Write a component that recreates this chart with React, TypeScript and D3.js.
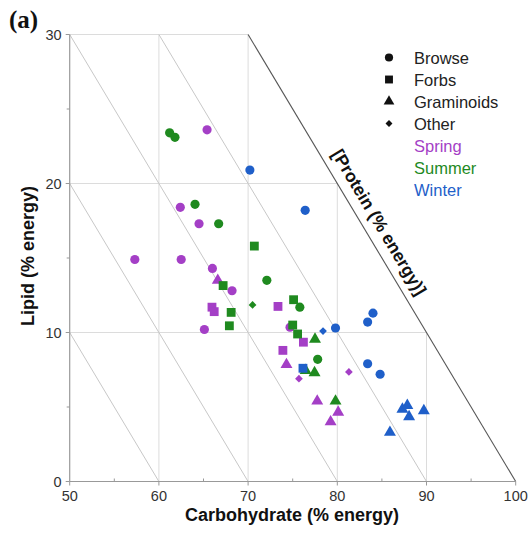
import React from "react";
import * as d3 from "d3";

const xTicks = [50, 60, 70, 80, 90, 100];
const yTicks = [0, 10, 20, 30];
const xMinor = [55, 65, 75, 85, 95];
const yMinor = [5, 15, 25];
const isoLines = [60, 70, 80, 90];

// [carbohydrate, lipid]
const springBrowse = [[65.4, 23.6], [62.4, 18.4], [64.5, 17.3], [57.3, 14.9], [62.5, 14.9], [66.0, 14.3], [68.2, 12.8], [65.1, 10.2], [74.7, 10.35]];
const springForbs = [[65.95, 11.7], [66.2, 11.4], [73.35, 11.75], [76.2, 9.35], [73.9, 8.8]];
const springGraminoids = [[66.6, 13.5], [74.3, 7.85], [77.75, 5.4], [80.1, 4.65], [79.25, 4.0]];
const springOther = [[75.7, 6.9], [81.3, 7.35]];

const summerBrowse = [[61.2, 23.4], [61.8, 23.1], [64.05, 18.6], [66.7, 17.3], [72.1, 13.5], [75.8, 11.7], [77.8, 8.2]];
const summerForbs = [[70.7, 15.8], [67.2, 13.15], [68.1, 11.35], [67.9, 10.45], [75.1, 12.2], [75.0, 10.5], [75.55, 9.9]];
const summerGraminoids = [[77.5, 9.55], [76.45, 7.45], [77.45, 7.3], [79.8, 5.4]];
const summerOther = [[70.5, 11.85]];

const winterBrowse = [[70.2, 20.9], [76.4, 18.2], [79.8, 10.3], [84.0, 11.3], [83.4, 10.7], [83.4, 7.9], [84.8, 7.2]];
const winterForbs = [[76.15, 7.6]];
const winterGraminoids = [[87.3, 4.85], [87.85, 5.1], [88.05, 4.35], [89.7, 4.75], [85.9, 3.3]];
const winterOther = [[78.4, 10.1]];

const seasonNames = ["Spring", "Summer", "Winter"];
const seasonColors = ["#a43fc6", "#1f8a1f", "#1f5fc9"];
const typeNames = ["Browse", "Forbs", "Graminoids", "Other"];

const seriesData = [
  [springBrowse, springForbs, springGraminoids, springOther],
  [summerBrowse, summerForbs, summerGraminoids, summerOther],
  [winterBrowse, winterForbs, winterGraminoids, winterOther],
];

const x = d3.scaleLinear().domain([50, 100]).range([69.7, 515.7]);
const y = d3.scaleLinear().domain([0, 30]).range([481.5, 34.5]);

const symbolPath = (t: number, scale = 1) => {
  if (t === 0) return d3.symbol(d3.symbolCircle, 66 * scale)()!;
  if (t === 1) return d3.symbol(d3.symbolSquare, 78 * scale)()!;
  if (t === 2) return d3.symbol(d3.symbolTriangle, 62 * scale)()!;
  return d3.symbol(d3.symbolSquare, 30 * scale)()!;
};
const symbolRot = (t: number) => (t === 3 ? 45 : 0);

export default function App() {
  const font = "'Liberation Sans', Arial, Helvetica, sans-serif";
  const x0 = x(50), y0 = y(0);
  // protein label geometry
  const p1 = [x(70), y(30)], p2 = [x(100), y(0)];
  const ang = (Math.atan2(p2[1] - p1[1], p2[0] - p1[0]) * 180) / Math.PI;
  const mx = (p1[0] + p2[0]) / 2, my = (p1[1] + p2[1]) / 2;

  return (
    <svg width={531} height={533} style={{ position: "absolute", left: 0, top: 0, background: "#fff" }} fontFamily={font}>
      <rect width={531} height={533} fill="#fff" />
      {/* grid clipped to triangle */}
      {[60, 70, 80, 90].map((v) => (
        <line key={"gx" + v} x1={x(v)} x2={x(v)} y1={y(0)} y2={y(Math.min(30, 100 - v))} stroke="#dcdcdc" strokeWidth={1} />
      ))}
      {[10, 20, 30].map((v) => (
        <line key={"gy" + v} x1={x(50)} x2={x(100 - v)} y1={y(v)} y2={y(v)} stroke="#dcdcdc" strokeWidth={1} />
      ))}
      {/* iso-protein lines */}
      {isoLines.map((s) => {
        const ya = Math.min(30, s - 50);
        const xa = s - ya;
        return <line key={"iso" + s} x1={x(xa)} y1={y(ya)} x2={x(s)} y2={y(0)} stroke="#c8c8c8" strokeWidth={1} />;
      })}
      <line x1={p1[0]} y1={p1[1]} x2={p2[0]} y2={p2[1]} stroke="#555" strokeWidth={1.1} />
      <text
        transform={`translate(${mx},${my}) rotate(${ang}) translate(-32,-10)`}
        textAnchor="middle"
        fontSize={17.5}
        fontWeight="bold"
        fill="#111"
      >
        [Protein (% energy)]
      </text>
      {/* axes */}
      <line x1={x0} x2={x(100)} y1={y0} y2={y0} stroke="#999" strokeWidth={1.2} />
      <line x1={x0} x2={x0} y1={y0} y2={y(30)} stroke="#999" strokeWidth={1.2} />
      {xTicks.map((v) => (
        <g key={"xt" + v}>
          <line x1={x(v)} x2={x(v)} y1={y0} y2={y0 + 4} stroke="#999" />
          <text x={x(v)} y={y0 + 19} textAnchor="middle" fontSize={14.5} fill="#333">{v}</text>
        </g>
      ))}
      {xMinor.map((v) => (
        <line key={"xm" + v} x1={x(v)} x2={x(v)} y1={y0} y2={y0 - 3} stroke="#999" />
      ))}
      {yTicks.map((v) => (
        <g key={"yt" + v}>
          <line x1={x0 - 4} x2={x0} y1={y(v)} y2={y(v)} stroke="#999" />
          <text x={x0 - 8} y={y(v) + 5} textAnchor="end" fontSize={14.5} fill="#333">{v}</text>
        </g>
      ))}
      {yMinor.map((v) => (
        <line key={"ym" + v} x1={x0 - 3} x2={x0} y1={y(v)} y2={y(v)} stroke="#999" />
      ))}
      <text x={292} y={521} textAnchor="middle" fontSize={18} fontWeight="bold" fill="#111">Carbohydrate (% energy)</text>
      <text transform={`translate(34,256) rotate(-90)`} textAnchor="middle" fontSize={18} fontWeight="bold" fill="#111">Lipid (% energy)</text>
      <text x={9} y={28} fontSize={25} fontWeight="bold" fontFamily="'Liberation Serif', 'Times New Roman', serif" fill="#111">(a)</text>
      {/* points */}
      {seriesData.map((types, si) =>
        types.map((pts, ti) =>
          pts.map((p, i) => (
            <path
              key={`p${si}-${ti}-${i}`}
              d={symbolPath(ti)}
              transform={`translate(${x(p[0])},${y(p[1])}) rotate(${symbolRot(ti)})`}
              fill={seasonColors[si]}
            />
          ))
        )
      )}
      {/* legend */}
      {typeNames.map((n, i) => (
        <g key={"lt" + n} transform={`translate(0,${57.5 + i * 22})`}>
          <path d={symbolPath(i, 0.8)} transform={`translate(389,0) rotate(${symbolRot(i)})`} fill="#111" />
          <text x={414} y={6} fontSize={16.5} fill="#222">{n}</text>
        </g>
      ))}
      {seasonNames.map((n, i) => (
        <text key={"ls" + n} x={414} y={57.5 + (i + 4) * 22 + 6} fontSize={16.5} fill={seasonColors[i]}>{n}</text>
      ))}
    </svg>
  );
}
